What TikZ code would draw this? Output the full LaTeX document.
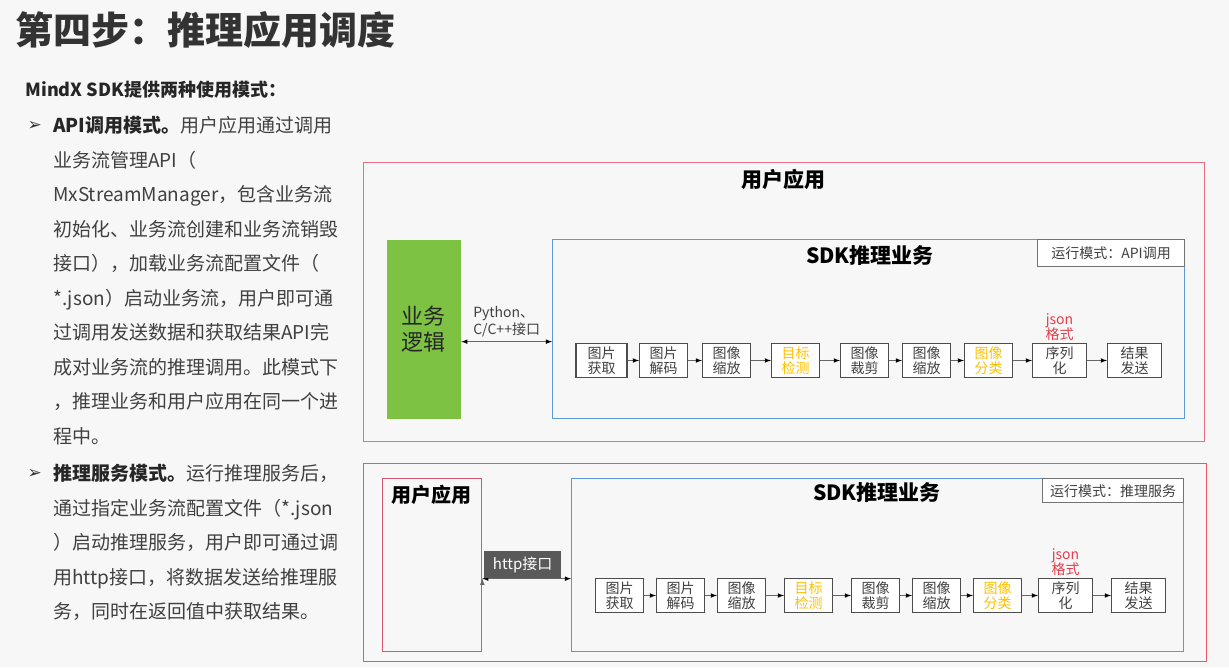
\documentclass[tikz,border=0pt]{standalone}
\usepackage{fontspec}
\setmainfont{Noto Sans CJK SC}
\newfontfamily\symfont{DejaVu Sans}
\usepackage{tikz}
\usetikzlibrary{arrows}
\usetikzlibrary{positioning}
\usetikzlibrary{shapes}

\definecolor{frame}{RGB}{232,112,130}
\definecolor{framered}{RGB}{236,88,96}
\definecolor{userframe}{RGB}{214,86,116}
\definecolor{sdkblue}{RGB}{91,155,213}
\definecolor{logic}{RGB}{125,194,66}
\definecolor{hilite}{RGB}{255,192,0}
\definecolor{jsonred}{RGB}{230,60,75}
\definecolor{ink}{RGB}{64,64,64}

\tikzstyle{stage}=[
   rectangle,
   draw=black!70,
   line width=1.2pt,
   fill=white,
   text=ink,
   align=center,
   minimum width=48pt,
   minimum height=34pt,
   inner sep=1pt,
   font=\fontsize{14}{15.5}\selectfont
]
\tikzstyle{wide}=[
   minimum width=54pt
]
\tikzstyle{container}=[
   rectangle,
   line width=1.3pt,
   inner sep=0pt,
   anchor=north west
]
\tikzstyle{modebox}=[
   rectangle,
   draw=black!55,
   line width=1.4pt,
   fill=white,
   text=ink,
   anchor=north east,
   font=\fontsize{14}{15}\selectfont
]
\tikzstyle{jsontext}=[
   text=jsonred,
   align=center,
   inner sep=1pt,
   font=\fontsize{14}{15.5}\selectfont
]
\tikzstyle{bodytext}=[
   anchor=north west,
   align=left,
   inner sep=0pt,
   text=ink,
   font=\fontsize{19}{34.5}\selectfont
]

\begin{document}
\begin{tikzpicture}[
         >=latex,
         x=1pt, y=-1pt,
         node distance=62pt
      ]
      \fill[white!97!black] (0,0) rectangle (1229,667);
      \useasboundingbox (0,0) rectangle (1229,667);

      % title and text on the left
      \node (title) [anchor=west, text=black!80, font=\fontsize{38}{40}\selectfont\bfseries] at (12,30) {第四步：推理应用调度};
      \node (intro) [anchor=west, text=black!85, font=\fontsize{18}{20}\selectfont\bfseries] at (22,90) {MindX SDK提供两种使用模式：};
      \node (b1) [anchor=west, text=black!80, font=\symfont\fontsize{17}{17}\selectfont] at (24,126) {➢};
      \node (p1) [bodytext] at (53,116) {
         {\bfseries\color{black!85}API调用模式。}用户应用通过调用
         \\业务流管理API（
         \\MxStreamManager，包含业务流
         \\初始化、业务流创建和业务流销毁
         \\接口），加载业务流配置文件（
         \\*.json）启动业务流，用户即可通
         \\过调用发送数据和获取结果API完
         \\成对业务流的推理调用。此模式下
         \\，推理业务和用户应用在同一个进
         \\程中。
      };
      \node (b2) [anchor=west, text=black!80, font=\symfont\fontsize{17}{17}\selectfont] at (24,474) {➢};
      \node (p2) [bodytext] at (53,464) {
         {\bfseries\color{black!85}推理服务模式。}运行推理服务后，
         \\通过指定业务流配置文件（*.json
         \\）启动推理服务，用户即可通过调
         \\用http接口，将数据发送给推理服
         \\务，同时在返回值中获取结果。
      };

      % API mode
      \node (app1) [container, draw=frame, minimum width=841pt, minimum height=279pt] at (363,162) {};
      \node (app1t) [font=\fontsize{21}{22}\selectfont\bfseries] at (783,179) {用户应用};
      \node (logic) [container, fill=logic, minimum width=74pt, minimum height=179pt] at (386,239) {};
      \node (logict) [align=center, text=black!85, font=\fontsize{22}{26}\selectfont] at (logic.center) {业务\\逻辑};
      \node (sdk1) [container, draw=sdkblue, minimum width=632pt, minimum height=179pt] at (552,239) {};
      \node (sdk1t) [font=\fontsize{21}{22}\selectfont\bfseries] at (870,256) {SDK推理业务};
      \node (mode1) [modebox, minimum width=147pt, minimum height=27pt] at (sdk1.north east) {运行模式：API调用};

      \node (0) [stage, minimum width=51pt] at (601.5,360.5) {图片\\获取};
      \node (1) [stage, right of=0] {图片\\解码};
      \node (2) [stage, right of=1, xshift=1pt] {图像\\缩放};
      \node (3) [stage, text=hilite, right of=2, xshift=7pt] {目标\\检测};
      \node (4) [stage, right of=3, xshift=7pt] {图像\\裁剪};
      \node (5) [stage, right of=4] {图像\\缩放};
      \node (6) [stage, text=hilite, right of=5] {图像\\分类};
      \node (7) [stage, wide, right of=6, xshift=9pt] {序列\\化};
      \node (8) [stage, wide, right of=7, xshift=13pt] {结果\\发送};
      \node (json1) [jsontext, above=1pt of 7] {json\\格式};

      % inference service mode
      \node (app2) [container, draw=framered, minimum width=843pt, minimum height=198pt] at (363,463) {};
      \node (user) [container, draw=userframe, minimum width=99pt, minimum height=173pt] at (382,478) {};
      \node (usert) [font=\fontsize{20}{22}\selectfont\bfseries] at (431,495) {用户应用};
      \node (sdk2) [container, draw=sdkblue, minimum width=612pt, minimum height=173pt] at (571,478) {};
      \node (sdk2t) [font=\fontsize{21}{22}\selectfont\bfseries] at (877,493) {SDK推理业务};
      \node (mode2) [modebox, minimum width=141pt, minimum height=24pt] at (sdk2.north east) {运行模式：推理服务};

      \node (10) [stage] at (619.5,595.5) {图片\\获取};
      \node (11) [stage, right of=10, xshift=-1pt] {图片\\解码};
      \node (12) [stage, right of=11, xshift=-1pt] {图像\\缩放};
      \node (13) [stage, text=hilite, right of=12, xshift=5pt] {目标\\检测};
      \node (14) [stage, right of=13, xshift=5pt] {图像\\裁剪};
      \node (15) [stage, right of=14, xshift=-1pt] {图像\\缩放};
      \node (16) [stage, text=hilite, right of=15, xshift=-1pt] {图像\\分类};
      \node (17) [stage, wide, right of=16, xshift=6pt] {序列\\化};
      \node (18) [stage, wide, right of=17, xshift=11pt] {结果\\发送};
      \node (json2) [jsontext, above=1pt of 17] {json\\格式};

      \path[->, line width=1.1pt, draw=black!60]

      ([yshift=-12.5pt]logic.east) edge[<->] node [above=1pt, align=left, text=ink, font=\fontsize{14}{17}\selectfont] {Python、\\C/C++接口} ([yshift=-12.5pt]sdk1.west)

      ([yshift=-13.5pt]user.east) edge[<->] node [above=0pt, xshift=-4pt, fill=black!65, text=white, minimum width=77pt, minimum height=27pt, inner sep=0pt, font=\fontsize{15}{16}\selectfont] {http接口} ([yshift=-13.5pt]sdk2.west)

      (0) edge (1)
      (1) edge (2)
      (2) edge (3)
      (3) edge (4)
      (4) edge (5)
      (5) edge (6)
      (6) edge (7)
      (7) edge (8)

      (10) edge (11)
      (11) edge (12)
      (12) edge (13)
      (13) edge (14)
      (14) edge (15)
      (15) edge (16)
      (16) edge (17)
      (17) edge (18)
      ;

   \end{tikzpicture}
\end{document}
